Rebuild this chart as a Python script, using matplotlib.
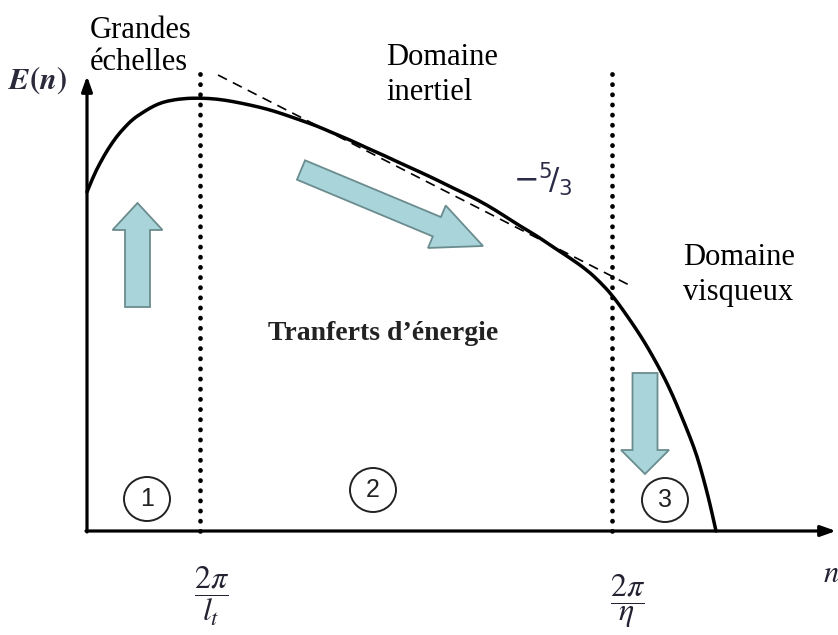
import matplotlib
matplotlib.use("Agg")
import matplotlib.pyplot as plt
from matplotlib.patches import Ellipse, PathPatch
from matplotlib.path import Path

plt.rcParams['mathtext.fontset'] = 'stix'

# ---- data (units: pixels relative to the axes origin) ----
curve_n = [0, 6, 13, 21, 30, 38, 46, 55, 63, 71, 80, 96, 113, 130, 146, 163, 180, 196,
           213, 230, 246, 263, 280, 296, 313, 333, 350, 366, 383, 400, 416, 433, 450,
           466, 483, 500, 513, 525, 536, 545, 553, 561, 570, 578, 586, 594, 603, 610,
           616, 621, 625, 629]
curve_E = [339, 354, 368, 382, 395, 404, 412, 418, 423, 427, 430, 432.5, 433, 432, 429.5,
           426, 422, 417, 411, 405, 398, 391, 383, 376, 368, 359, 351, 343, 335, 326,
           316, 305, 295, 284, 273, 261, 249, 236, 221, 208, 196, 183, 167, 152, 135,
           116, 94, 75, 54, 35, 18, 0]
slope_n = [131, 546]
slope_E = [456, 244]
slope_label = r'$-{}^{5}\!/_{3}$'
boundary_n = [113, 525]
boundary_top = [459, 461]
tick_labels = [r'$\dfrac{2\pi}{l_t}$', r'$\dfrac{2\pi}{\eta}$']
tick_label_n = [125, 541]
tick_label_E = [-65, -70]
region_labels = ['1', '2', '3']
region_n = [60, 286, 578]
region_E = [32, 41, 31]
# energy-flow arrows: (n, E, dn, dE)
arrow_up = (50.5, 224, 0, 104)
arrow_diag = (214, 361, 182, -76)
arrow_down = (558, 158, 0, -101)

fig = plt.figure(figsize=(8.38, 6.35), dpi=100)
ax = fig.add_axes([0, 0, 1, 1])
ax.set_xlim(-87, 751)
ax.set_ylim(-104, 531)
ax.axis('off')

serif = ['Liberation Serif', 'DejaVu Serif']

# axes with arrows
ax.annotate('', xy=(0, 455), xytext=(0, -1),
            arrowprops=dict(arrowstyle='-|>,head_length=0.9,head_width=0.32',
                            lw=2.3, color='black', shrinkA=0, shrinkB=0))
ax.annotate('', xy=(749, 0), xytext=(-1, 0),
            arrowprops=dict(arrowstyle='-|>,head_length=0.9,head_width=0.32',
                            lw=2.3, color='black', shrinkA=0, shrinkB=0))

# boundaries (dotted)
for bn, bt in zip(boundary_n, boundary_top):
    ax.plot([bn, bn], [0, bt], color='black', lw=3.4,
            linestyle=(0, (0.05, 2.1)), dash_capstyle='round', zorder=3)

# -5/3 slope (dashed)
ax.plot(slope_n, slope_E, color='black', lw=1.2, linestyle=(0, (6, 4)), zorder=3)

# spectrum curve (smoothed through the read points with quadratic segments)
pts = list(zip(curve_n, curve_E))
verts = [pts[0]]
codes = [Path.MOVETO]
for i in range(1, len(pts) - 1):
    mid = ((pts[i][0] + pts[i + 1][0]) / 2, (pts[i][1] + pts[i + 1][1]) / 2)
    verts += [pts[i], mid]
    codes += [Path.CURVE3, Path.CURVE3]
verts.append(pts[-1])
codes.append(Path.LINETO)
ax.add_patch(PathPatch(Path(verts, codes), fc='none', ec='black', lw=2.5,
                       capstyle='round', joinstyle='round', zorder=4))

# fat arrows
fc = '#a9d5da'
ec = '#6b8c8e'
for (x0, y0, dx, dy), w, hw, hl in [(arrow_up, 25, 50, 27),
                                   (arrow_diag, 21, 46, 50),
                                   (arrow_down, 25, 48, 24)]:
    ax.arrow(x0, y0, dx, dy, width=w, head_width=hw, head_length=hl,
             length_includes_head=True, fc=fc, ec=ec, lw=1.3, zorder=2)

# region circles
for lab, cn, ce in zip(region_labels, region_n, region_E):
    ax.add_patch(Ellipse((cn, ce), 46, 44, fc='none', ec='#222222', lw=1.4, zorder=3))
    ax.text(cn, ce, lab, ha='center', va='center', fontsize=18,
            family=['Liberation Sans', 'DejaVu Sans'], color='#222222', zorder=3)

# tick labels
for lab, tn, te in zip(tick_labels, tick_label_n, tick_label_E):
    ax.text(tn, te, lab, ha='center', va='center', fontsize=23, color='#222233')
ax.text(744, -43, r'$n$', ha='center', va='center', fontsize=22, color='#222233')
ax.text(-49, 451, r'$\boldsymbol{E(n)}$', ha='center', va='center', fontsize=22,
        color='#2a2a3a')

# annotations (each line placed at its baseline)
def label(x_px, base_px, s, **kw):
    ax.text(x_px - 87, 531 - base_px, s, ha='left', va='baseline', fontsize=22,
            family=serif, **kw)

label(90, 38, 'Grandes')
label(90, 70, 'échelles')
label(386, 65, 'Domaine')
label(386, 100, 'inertiel')
label(683, 265, 'Domaine')
label(683, 300, 'visqueux')
ax.text(181, 191, 'Tranferts d\u2019énergie', ha='left', va='baseline', fontsize=20,
        family=serif, fontweight='bold', color='#222222')

ax.text(456, 352, slope_label, ha='center', va='center', fontsize=22,
        math_fontfamily='dejavusans', color='#2b2b48')

fig.savefig('out.png', dpi=100)
